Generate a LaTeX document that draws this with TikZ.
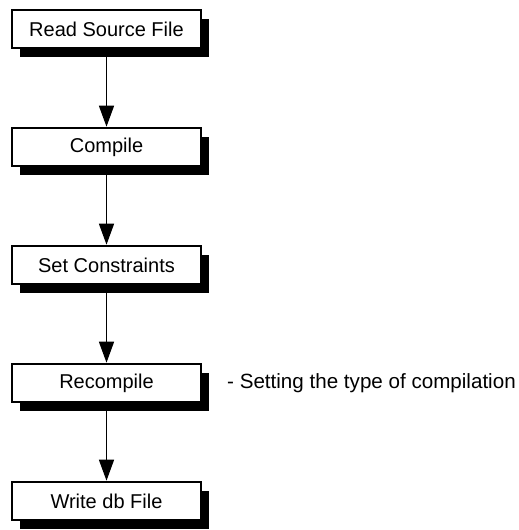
\documentclass[tikz,border=0pt]{standalone}
\usepackage{fontspec}
\setmainfont{Liberation Sans}
\usetikzlibrary{arrows.meta,shadows}
\begin{document}
\begin{tikzpicture}[x=1pt,y=-1pt,
  stepbox/.style={draw=black, fill=white, line width=2.6pt,
    minimum width=189pt, minimum height=38pt, inner sep=0pt,
    font=\fontsize{20}{22}\selectfont,
    drop shadow={shadow xshift=8pt, shadow yshift=-9pt, fill=black, opacity=1}},
  flow/.style={line width=1.4pt, -{Triangle[length=21pt,width=15pt]}},
  note/.style={anchor=west, inner sep=0pt, font=\fontsize{20.6}{23}\selectfont}]
  \useasboundingbox (0,0) rectangle (519,530);
  % processing steps, top to bottom
  \node[stepbox] (read)    at (106.5,29)  {Read Source File};
  \node[stepbox] (compile) at (106.5,147) {Compile};
  \node[stepbox] (constr)  at (106.5,265) {Set Constraints};
  \node[stepbox] (recomp)  at (106.5,383) {Recompile};
  \node[stepbox] (write)   at (106.5,501) {Write db File};
  % remark next to the recompile step
  \node[note] (remark) at (227,383) {- Setting the type of compilation};
  % connectors
  \draw[flow] (read.south)    -- (compile.north);
  \draw[flow] (compile.south) -- (constr.north);
  \draw[flow] (constr.south)  -- (recomp.north);
  \draw[flow] (recomp.south)  -- (write.north);
\end{tikzpicture}
\end{document}
